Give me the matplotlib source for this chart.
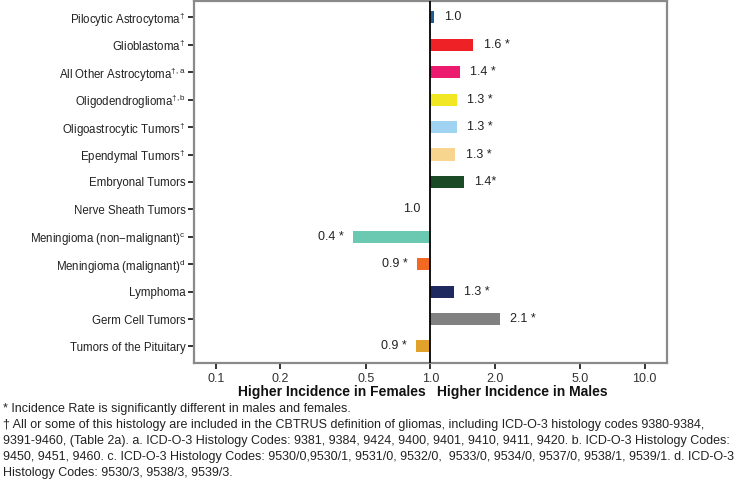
import numpy as np
import matplotlib
matplotlib.use('Agg')
from matplotlib import pyplot as plt

plt.rcParams['font.family'] = ['Liberation Sans', 'DejaVu Sans']
plt.rcParams['mathtext.fontset'] = 'custom'
plt.rcParams['mathtext.rm'] = 'Liberation Sans'
plt.rcParams['mathtext.it'] = 'Liberation Sans'

# histology groups, top to bottom
categories = [
    'Pilocytic Astrocytoma$^{\\mathrm{\u2020}}$',
    'Glioblastoma$^{\\mathrm{\u2020}}$',
    'All Other Astrocytoma$^{\\mathrm{\u2020,a}}$',
    'Oligodendroglioma$^{\\mathrm{\u2020,b}}$',
    'Oligoastrocytic Tumors$^{\\mathrm{\u2020}}$',
    'Ependymal Tumors$^{\\mathrm{\u2020}}$',
    'Embryonal Tumors',
    'Nerve Sheath Tumors',
    'Meningioma (non\u2212malignant)$^{\\mathrm{c}}$',
    'Meningioma (malignant)$^{\\mathrm{d}}$',
    'Lymphoma',
    'Germ Cell Tumors',
    'Tumors of the Pituitary',
]
# male:female incidence rate ratio (bar length)
ratios = [1.04, 1.59, 1.37, 1.33, 1.33, 1.31, 1.43, 0.99, 0.435, 0.865, 1.285, 2.11, 0.855]
value_labels = ['1.0', '1.6 *', '1.4 *', '1.3 *', '1.3 *', '1.3 *', '1.4*',
                '1.0', '0.4 *', '0.9 *', '1.3 *', '2.1 *', '0.9 *']
colors = ['#1f5e94', '#ee2226', '#ec1b6f', '#f1e823', '#9fd3f1', '#f8d58e', '#1a4b26',
          '#ffffff', '#6cc9b1', '#f26924', '#1e2a5f', '#818181', '#e0a22b']

xticks = [0.1, 0.2, 0.5, 1.0, 2.0, 5.0, 10.0]

footnote = (
    "* Incidence Rate is significantly different in males and females.\n"
    "\u2020 All or some of this histology are included in the CBTRUS definition of gliomas, "
    "including ICD-O-3 histology codes 9380-9384,\n"
    "9391-9460, (Table 2a). a. ICD-O-3 Histology Codes: 9381, 9384, 9424, 9400, 9401, 9410, "
    "9411, 9420. b. ICD-O-3 Histology Codes:\n"
    "9450, 9451, 9460. c. ICD-O-3 Histology Codes: 9530/0,9530/1, 9531/0, 9532/0,  9533/0, "
    "9534/0, 9537/0, 9538/1, 9539/1. d. ICD-O-3\n"
    "Histology Codes: 9530/3, 9538/3, 9539/3."
)

fig = plt.figure(figsize=(7.39, 4.8), dpi=100)
ax = fig.add_axes([0.2625, 0.244, 0.64, 0.754])

y = np.arange(len(categories))
r = np.array(ratios)
ax.barh(y, r - 1, left=1, height=0.44, color=colors, zorder=2)
ax.axvline(1, color='black', lw=1.3, zorder=3)

for yi, v, lab in zip(y, ratios, value_labels):
    if v >= 1:
        ax.annotate(lab, (v, yi), xytext=(7.5, 0), textcoords='offset points',
                    ha='left', va='center', fontsize=9, color='#222222')
    else:
        ax.annotate(lab, (v, yi), xytext=(-6.5, 0), textcoords='offset points',
                    ha='right', va='center', fontsize=9, color='#222222')

ax.set_xscale('log')
ax.set_xlim(0.079, 12.7)
ax.set_ylim(len(categories) - 0.4, -0.6)
ax.set_xticks(xticks)
ax.set_xticklabels(['%.1f' % t for t in xticks])
ax.minorticks_off()
ax.set_yticks(y)
ax.set_yticklabels(categories)
ax.tick_params(axis='y', labelsize=8.3, colors='#222222', length=4, width=1.3, pad=2)
ax.tick_params(axis='x', labelsize=9, labelcolor='#333333', color='#222222',
               length=4, width=1.3, pad=3)
for s in ax.spines.values():
    s.set_color('#8a8a8a')
    s.set_linewidth(1.6)

fig.text(426 / 739, 1 - 392 / 480, 'Higher Incidence in Females', ha='right', va='center',
         fontsize=10, fontweight='bold', color='#111111')
fig.text(437 / 739, 1 - 392 / 480, 'Higher Incidence in Males', ha='left', va='center',
         fontsize=10, fontweight='bold', color='#111111')

fig.text(3 / 739, 1 - 403 / 480, footnote, ha='left', va='top', fontsize=9,
         color='#222222', linespacing=1.45)

fig.savefig('out.png', dpi=100)
